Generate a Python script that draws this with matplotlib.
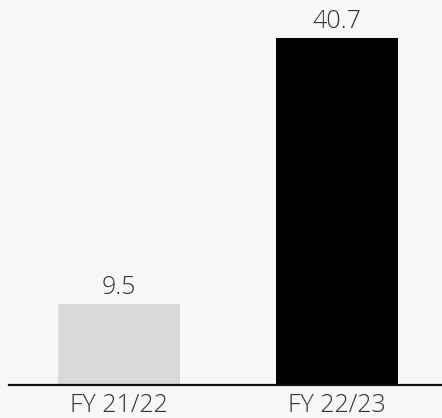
import matplotlib
matplotlib.use("Agg")
import matplotlib.pyplot as plt

years = ["FY 21/22", "FY 22/23"]
values = [9.5, 40.7]
colors = ["#d9d9d9", "#000000"]

plt.rcParams['font.family'] = ['Open Sans', 'DejaVu Sans']

fig = plt.figure(figsize=(4.42, 4.18), dpi=100, facecolor="#f7f7f7")
ax = fig.add_axes([9 / 442, 33 / 418, 433 / 442, 385 / 418])
ax.set_facecolor("#f7f7f7")

x = range(len(years))
bars = ax.bar(x, values, width=0.56, color=colors)

for b, v in zip(bars, values):
    ax.annotate(f"{v}", (b.get_x() + b.get_width() / 2, v),
                xytext=(0, 3), textcoords="offset points",
                ha="center", va="bottom", fontsize=18, color="#333333",
                fontweight=300)

ax.set_xlim(-0.505, 1.482)
ax.set_ylim(0, 45.15)
ax.set_xticks(list(x))
ax.set_xticklabels(years, fontsize=18, color="#333333", fontweight=300)
ax.tick_params(axis="x", length=0, pad=5.5)
ax.set_yticks([])
for side in ["top", "right", "left"]:
    ax.spines[side].set_visible(False)
ax.spines["bottom"].set_linewidth(1.6)
ax.spines["bottom"].set_color("#111111")

fig.savefig("out.png", dpi=100, facecolor=fig.get_facecolor())
